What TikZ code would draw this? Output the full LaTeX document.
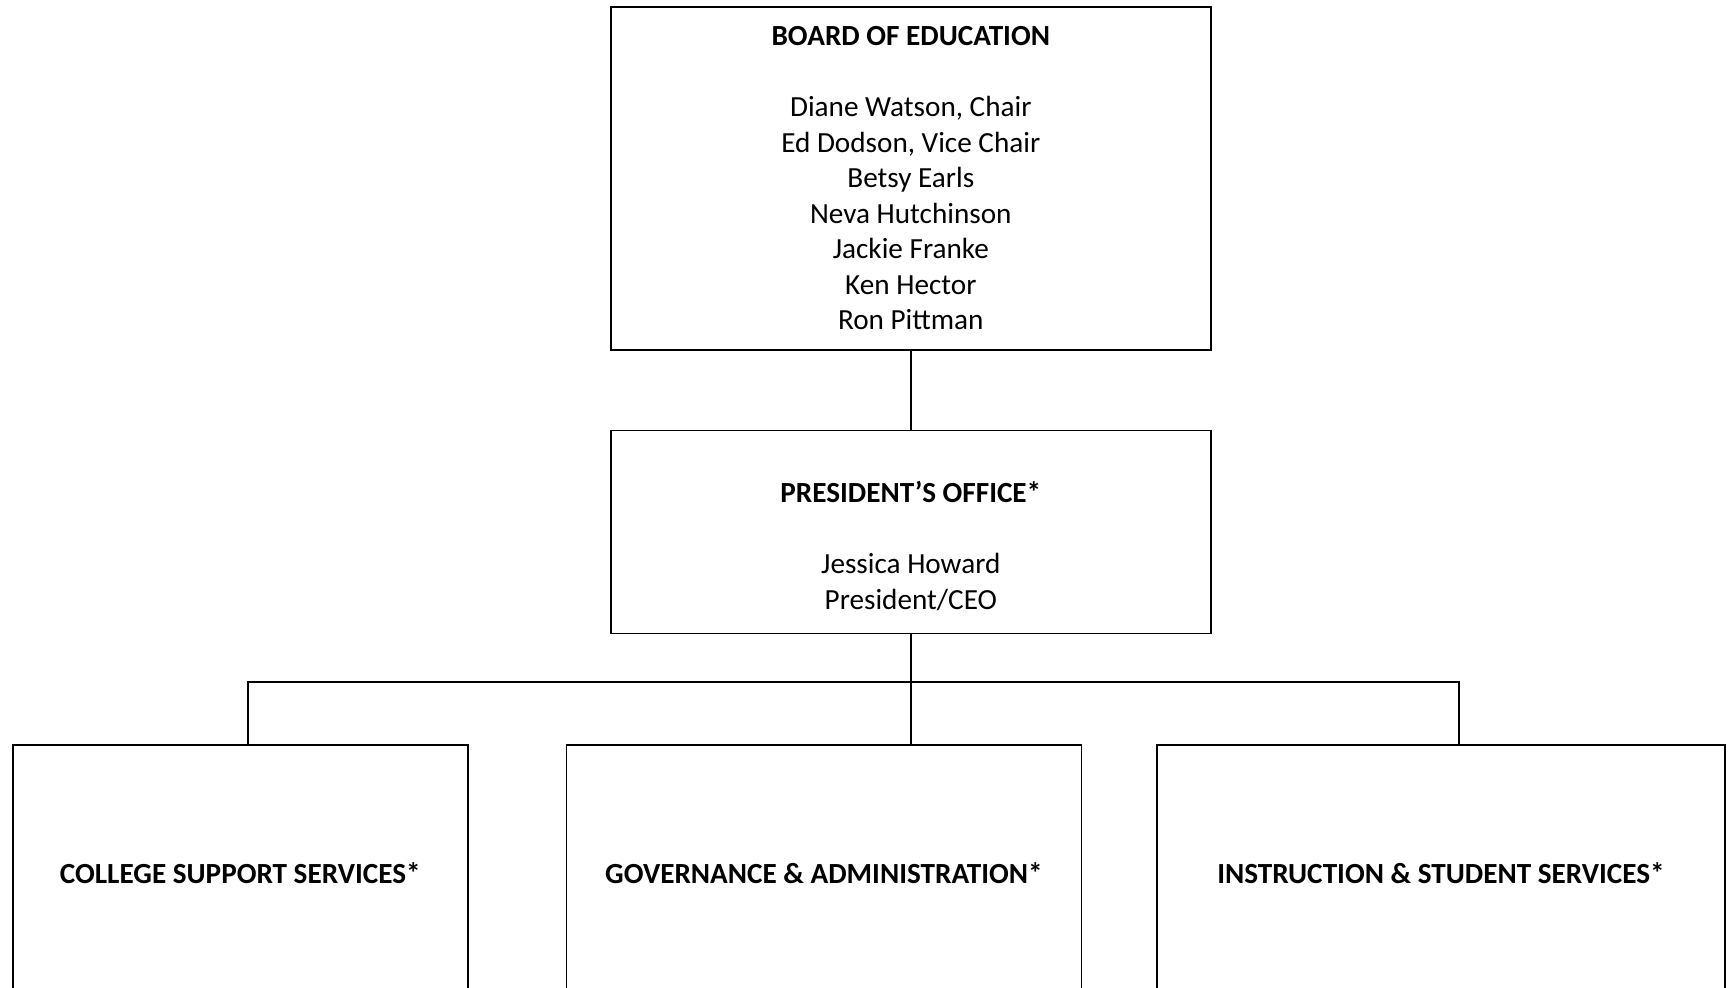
\documentclass[tikz,border=0pt]{standalone}
\usepackage{fontspec}
\setmainfont{Carlito}
\usetikzlibrary{positioning}

\begin{document}
\begin{tikzpicture}[
    x=0.5pt, y=-0.5pt,
    node distance=39.5pt,
    box/.style={draw, line width=0.8pt, inner sep=0pt, align=center, font=\fontsize{14.6pt}{17.75pt}\selectfont},
    topbox/.style={box, minimum width=300pt, minimum height=171.5pt},
    presbox/.style={box, minimum width=300pt, minimum height=101.5pt},
    unitbox/.style={box, minimum height=128pt, font=\fontsize{14.6pt}{17.75pt}\selectfont\bfseries},
    link/.style={line width=0.75pt},
  ]
  \useasboundingbox (0,0) rectangle (1730,987);
  \node[topbox, anchor=north west] (board) at (610,6) {\textbf{BOARD OF EDUCATION}\\[17.75pt]
    Diane Watson, Chair\\ Ed Dodson, Vice Chair\\ Betsy Earls\\ Neva Hutchinson\\
    Jackie Franke\\ Ken Hector\\ Ron Pittman};
  \node[presbox, below=of board] (pres) {\mbox{}\\[7pt] \textbf{PRESIDENT’S OFFICE*}\\[17.75pt]
    Jessica Howard\\ President/CEO};
  \node[unitbox, minimum width=227.5pt, anchor=north west] (college) at (12,744) {COLLEGE SUPPORT SERVICES*};
  \node[unitbox, minimum width=257.5pt, right=48.5pt of college] (gov) {GOVERNANCE \& ADMINISTRATION*};
  \node[unitbox, minimum width=284pt, right=37pt of gov] (instr) {INSTRUCTION \& STUDENT SERVICES*};
  \coordinate (busL) at (248,682);
  \coordinate (busR) at (1459,682);
  \draw[link] (board) -- (pres);
  \draw[link] (pres) -- (pres.south |- gov.north);
  \draw[link] (busL |- college.north) -- (busL) -- (busR) -- (busR |- instr.north);
\end{tikzpicture}
\end{document}
